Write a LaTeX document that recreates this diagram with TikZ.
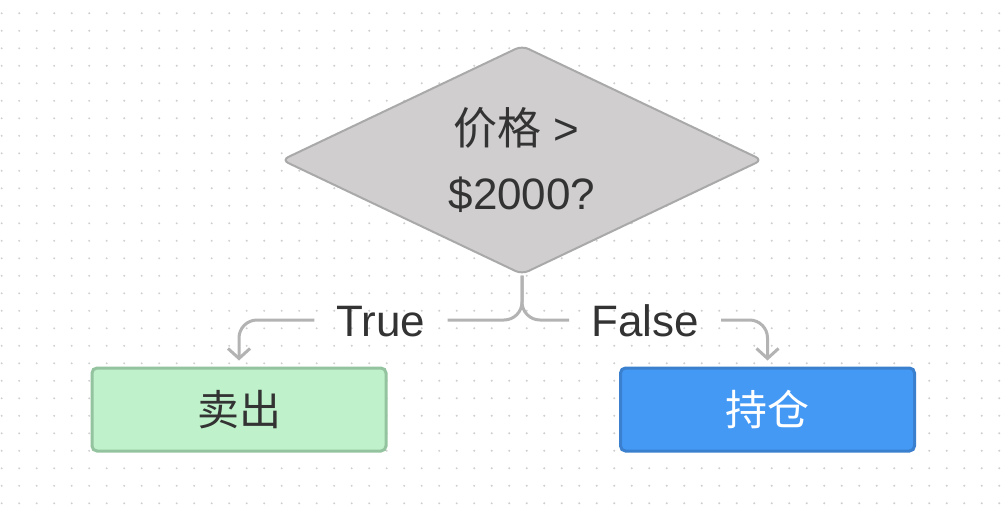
\documentclass[tikz,border=0pt]{standalone}
\usepackage{fontspec}
\setmainfont{Liberation Sans}
\newfontfamily\cjk{Noto Sans CJK SC}
\usetikzlibrary{shapes.geometric,arrows.meta}
\definecolor{dotc}{HTML}{CFCFCF}
\definecolor{dfill}{HTML}{D0CECF}
\definecolor{dline}{HTML}{A9A9A9}
\definecolor{eline}{HTML}{B3B3B3}
\definecolor{txt}{HTML}{333333}
\definecolor{gfill}{HTML}{BFF1CB}
\definecolor{gline}{HTML}{93C49F}
\definecolor{bfill}{HTML}{4499F5}
\definecolor{bline}{HTML}{3A80CE}
\tikzset{
  boxnode/.style={rectangle, rounded corners=5pt, line width=3pt, minimum width=294pt, minimum height=83pt, inner sep=0pt, font=\fontsize{42}{50}\selectfont\cjk},
  lbl/.style={inner xsep=22pt, inner ysep=0pt, text height=32pt, text depth=0pt, font=\fontsize{44}{50}\selectfont, text=txt},
  edge/.style={draw=eline, line width=3pt, rounded corners=18pt},
  arr/.style={-{Straight Barb[length=10pt,width=22pt,line width=3pt]}, shorten >=6pt}
}
\begin{document}
\begin{tikzpicture}[x=1pt,y=-1pt]
\useasboundingbox[fill=white] (0,0) rectangle (1008,514);
\foreach \i in {0,...,57}{\foreach \j in {0,...,29}{\fill[dotc] (1.7+17.5*\i,13.3+17.5*\j) circle (1.1pt);}}
\node[diamond, aspect=2.1, draw=dline, fill=dfill, line width=2pt, minimum width=481pt, minimum height=229pt, inner sep=0pt, rounded corners=7pt, align=center, font=\fontsize{44}{65}\selectfont, text=txt] (d) at (522,160) {{\cjk 价格} >\hspace*{12pt}\\\$2000?};
\node[boxnode, fill=gfill, draw=gline, text=txt] (s) at (239,409.5) {卖出};
\node[boxnode, fill=bfill, draw=bline, text=white] (h) at (767.5,409.5) {持仓};
\node[lbl] (lt) at (381,320) {True};
\node[lbl] (lf) at (645,320) {False};
\draw[edge] (d.south) |- (lt.east);
\draw[edge, arr] (lt.west) -| (s.north);
\draw[edge] (d.south) |- (lf.west);
\draw[edge, arr] (lf.east) -| (h.north);
\end{tikzpicture}
\end{document}
